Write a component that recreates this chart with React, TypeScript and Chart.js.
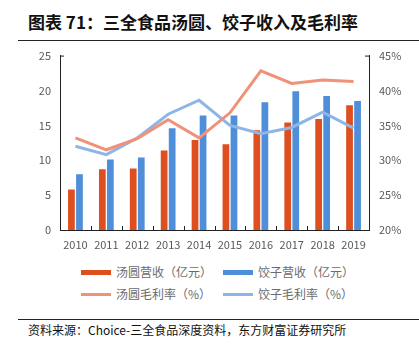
import React, { useEffect, useRef } from "react";
import { Chart, registerables } from "chart.js";

Chart.register(...registerables);

const years = ["2010", "2011", "2012", "2013", "2014", "2015", "2016", "2017", "2018", "2019"];
const tangyuanRevenue = [5.8, 8.7, 8.8, 11.4, 12.9, 12.3, 14.3, 15.4, 15.9, 17.9];
const jiaoziRevenue = [8.0, 10.1, 10.4, 14.6, 16.4, 16.4, 18.3, 19.9, 19.2, 18.5];
const tangyuanMargin = [33.2, 31.5, 33.1, 35.8, 33.2, 36.8, 42.8, 41.0, 41.5, 41.3];
const jiaoziMargin = [32.0, 30.8, 33.2, 36.6, 38.6, 35.0, 33.8, 34.7, 36.9, 34.6];

const RED_BAR = "#DE4F1F";
const BLUE_BAR = "#4F8ED9";
const RED_LINE = "#F0917A";
const BLUE_LINE = "#8DB6E6";
const TXT = "#595959";
const FONT = "'Noto Sans CJK SC', 'Noto Sans', sans-serif";

const innerTicks = {
  id: "innerTicks",
  afterDraw(chart: any) {
    const { ctx, chartArea } = chart;
    const n = years.length;
    const step = (chartArea.right - chartArea.left) / n;
    ctx.save();
    ctx.strokeStyle = "#222";
    ctx.lineWidth = 1;
    ctx.beginPath();
    for (let i = 1; i < n; i++) {
      const px = Math.round(chartArea.left + step * i) + 0.5;
      ctx.moveTo(px, chartArea.bottom);
      ctx.lineTo(px, chartArea.bottom - 4);
    }
    ctx.moveTo(chartArea.left, chartArea.top + 0.5);
    ctx.lineTo(chartArea.left + 4, chartArea.top + 0.5);
    ctx.moveTo(chartArea.right, chartArea.top + 0.5);
    ctx.lineTo(chartArea.right - 4, chartArea.top + 0.5);
    ctx.stroke();
    ctx.restore();
  },
};

export default function App() {
  const ref = useRef<HTMLCanvasElement | null>(null);

  useEffect(() => {
    if (!ref.current) return;
    const chart = new Chart(ref.current, {
      type: "bar",
      data: {
        labels: years,
        datasets: [
          {
            type: "line",
            label: "汤圆毛利率（%）",
            data: tangyuanMargin,
            borderColor: RED_LINE,
            backgroundColor: RED_LINE,
            borderWidth: 3,
            pointRadius: 0,
            yAxisID: "y1",
            order: 0,
          },
          {
            type: "line",
            label: "饺子毛利率（%）",
            data: jiaoziMargin,
            borderColor: BLUE_LINE,
            backgroundColor: BLUE_LINE,
            borderWidth: 3,
            pointRadius: 0,
            yAxisID: "y1",
            order: 0,
          },
          {
            type: "bar",
            label: "汤圆营收（亿元）",
            data: tangyuanRevenue,
            backgroundColor: RED_BAR,
            yAxisID: "y",
            barPercentage: 0.84,
            categoryPercentage: 0.52,
            order: 1,
          },
          {
            type: "bar",
            label: "饺子营收（亿元）",
            data: jiaoziRevenue,
            backgroundColor: BLUE_BAR,
            yAxisID: "y",
            barPercentage: 0.84,
            categoryPercentage: 0.52,
            order: 1,
          },
        ],
      },
      options: {
        animation: false,
        responsive: false,
        maintainAspectRatio: false,
        layout: { padding: { top: 5, left: 0, right: 0, bottom: 0 } },
        plugins: { legend: { display: false }, tooltip: { enabled: false } },
        scales: {
          x: {
            grid: { display: false, drawOnChartArea: false, drawTicks: false },
            border: { display: true, color: "#222", width: 1 },
            ticks: { color: TXT, font: { size: 11, family: FONT }, padding: 8, maxRotation: 0 },
            afterFit: (axis: any) => {
              axis.height = 30;
            },
          },
          y: {
            position: "left",
            min: 0,
            max: 25,
            grid: { display: false, drawTicks: false },
            border: { display: true, color: "#222", width: 1 },
            ticks: { stepSize: 5, color: TXT, font: { size: 11, family: FONT }, padding: 9 },
            afterFit: (axis: any) => {
              axis.width = 60;
            },
          },
          y1: {
            position: "right",
            min: 20,
            max: 45,
            grid: { display: false, drawTicks: false },
            border: { display: true, color: "#222", width: 1 },
            ticks: {
              stepSize: 5,
              color: TXT,
              font: { size: 11, family: FONT },
              padding: 10,
              callback: (v: any) => v + "%",
            },
            afterFit: (axis: any) => {
              axis.width = 50;
            },
          },
        },
      },
      plugins: [innerTicks],
    });
    return () => chart.destroy();
  }, []);

  const legendText: React.CSSProperties = {
    position: "absolute",
    fontSize: 12,
    color: "#6b6b6b",
    fontFamily: FONT,
    lineHeight: "14px",
    whiteSpace: "nowrap",
  };

  return (
    <div
      style={{
        position: "fixed",
        left: 0,
        top: 0,
        width: 419,
        height: 351,
        background: "#fff",
        overflow: "hidden",
        fontFamily: FONT,
      }}
    >
      <div
        style={{
          position: "absolute",
          left: 28,
          top: 12,
          fontSize: 17,
          fontWeight: "bold",
          lineHeight: "20px",
          color: "#111",
          whiteSpace: "nowrap",
        }}
      >
        图表 71：三全食品汤圆、饺子收入及毛利率
      </div>
      <div style={{ position: "absolute", left: 18, top: 40, width: 401, height: 1, background: "#222" }} />
      <canvas
        ref={ref}
        width={419}
        height={221}
        style={{ position: "absolute", left: 0, top: 39, width: 419, height: 221 }}
      />
      <div style={{ position: "absolute", left: 81, top: 270, width: 30, height: 5, background: RED_BAR }} />
      <div style={{ ...legendText, left: 116, top: 265 }}>汤圆营收（亿元）</div>
      <div style={{ position: "absolute", left: 223, top: 270, width: 30, height: 5, background: BLUE_BAR }} />
      <div style={{ ...legendText, left: 258, top: 265 }}>饺子营收（亿元）</div>
      <div style={{ position: "absolute", left: 81, top: 293, width: 30, height: 3, background: RED_LINE }} />
      <div style={{ ...legendText, left: 116, top: 287 }}>汤圆毛利率（%）</div>
      <div style={{ position: "absolute", left: 223, top: 293, width: 30, height: 3, background: BLUE_LINE }} />
      <div style={{ ...legendText, left: 258, top: 287 }}>饺子毛利率（%）</div>
      <div style={{ position: "absolute", left: 18, top: 319, width: 401, height: 1, background: "#222" }} />
      <div
        style={{
          position: "absolute",
          left: 28,
          top: 323,
          fontSize: 12,
          lineHeight: "14px",
          color: "#111",
          whiteSpace: "nowrap",
        }}
      >
        资料来源：Choice-三全食品深度资料，东方财富证券研究所
      </div>
    </div>
  );
}
